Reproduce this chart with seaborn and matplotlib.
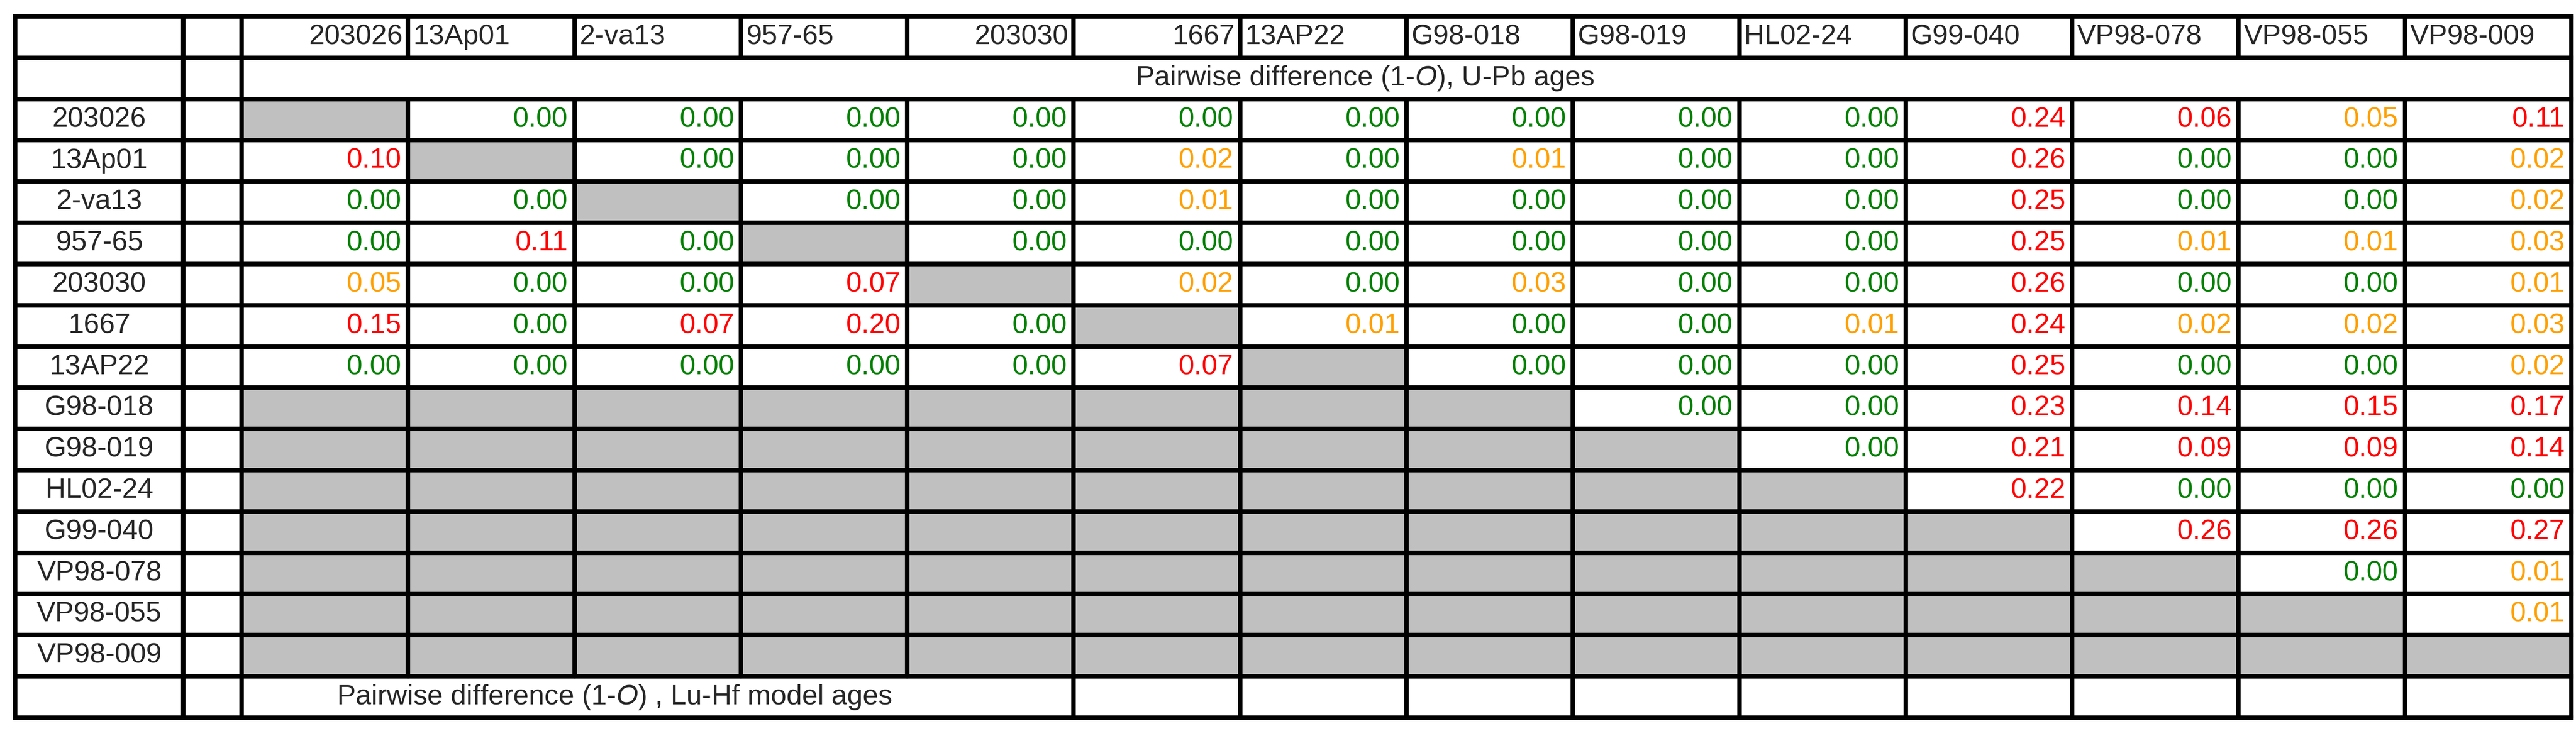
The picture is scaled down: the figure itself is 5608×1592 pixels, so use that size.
import numpy as np
import matplotlib
matplotlib.use("Agg")
import matplotlib.pyplot as plt
import seaborn as sns
from matplotlib.colors import ListedColormap

sns.set_theme(style="white")
plt.rcParams['font.family'] = ['Liberation Sans', 'DejaVu Sans']
plt.rcParams['mathtext.fontset'] = 'custom'
plt.rcParams['mathtext.it'] = 'Liberation Sans:italic'
plt.rcParams['mathtext.rm'] = 'Liberation Sans'

samples = ["203026", "13Ap01", "2-va13", "957-65", "203030", "1667", "13AP22",
           "G98-018", "G98-019", "HL02-24", "G99-040", "VP98-078", "VP98-055", "VP98-009"]
numeric_header = [True, False, False, False, True, True, False,
                  False, False, False, False, False, False, False]
N = np.nan
values = [
    [N, 0.00, 0.00, 0.00, 0.00, 0.00, 0.00, 0.00, 0.00, 0.00, 0.24, 0.06, 0.05, 0.11],
    [0.10, N, 0.00, 0.00, 0.00, 0.02, 0.00, 0.01, 0.00, 0.00, 0.26, 0.00, 0.00, 0.02],
    [0.00, 0.00, N, 0.00, 0.00, 0.01, 0.00, 0.00, 0.00, 0.00, 0.25, 0.00, 0.00, 0.02],
    [0.00, 0.11, 0.00, N, 0.00, 0.00, 0.00, 0.00, 0.00, 0.00, 0.25, 0.01, 0.01, 0.03],
    [0.05, 0.00, 0.00, 0.07, N, 0.02, 0.00, 0.03, 0.00, 0.00, 0.26, 0.00, 0.00, 0.01],
    [0.15, 0.00, 0.07, 0.20, 0.00, N, 0.01, 0.00, 0.00, 0.01, 0.24, 0.02, 0.02, 0.03],
    [0.00, 0.00, 0.00, 0.00, 0.00, 0.07, N, 0.00, 0.00, 0.00, 0.25, 0.00, 0.00, 0.02],
    [N, N, N, N, N, N, N, N, 0.00, 0.00, 0.23, 0.14, 0.15, 0.17],
    [N, N, N, N, N, N, N, N, N, 0.00, 0.21, 0.09, 0.09, 0.14],
    [N, N, N, N, N, N, N, N, N, N, 0.22, 0.00, 0.00, 0.00],
    [N, N, N, N, N, N, N, N, N, N, N, 0.26, 0.26, 0.27],
    [N, N, N, N, N, N, N, N, N, N, N, N, 0.00, 0.01],
    [N, N, N, N, N, N, N, N, N, N, N, N, N, 0.01],
    [N, N, N, N, N, N, N, N, N, N, N, N, N, N],
]
title_upb = "Pairwise difference ($\\mathit{1}$-$\\mathit{O}$), U-Pb ages"
title_luhf = "Pairwise difference ($\\mathit{1}$-$\\mathit{O}$) , Lu-Hf model ages"

def colour(v):
    if v == 0:
        return "#008000"
    if v <= 0.05:
        return "#ffa000"
    return "#ff0000"

W, H = 5608, 1592
fig = plt.figure(figsize=(W / 100, H / 100), dpi=100)
x0, x1 = 526, 5598
y0, y1 = 36, 1563
ax = fig.add_axes([x0 / W, 1 - y1 / H, (x1 - x0) / W, (y1 - y0) / H])

n = len(samples)
vals = np.array(values, dtype=float)
grid = np.full((n + 3, n), np.nan)
grid[2:2 + n][np.isnan(vals)] = 1.0
mask = np.isnan(grid)
sns.heatmap(grid, mask=mask, cmap=ListedColormap(["#c0c0c0"]), cbar=False,
            xticklabels=False, yticklabels=False, ax=ax, linewidths=0)
ax.set_xlim(-1.36, n)
ax.set_ylim(n + 3, 0)
ax.set_position([(x0 - 1.36 * (x1 - x0) / n) / W, 1 - y1 / H,
                 (x1 - x0 + 1.36 * (x1 - x0) / n) / W, (y1 - y0) / H])
ax.axis("off")

fs = 44
lw = 7
cl, cb = -1.36, -0.35
rows_total = n + 3
for r in range(rows_total + 1):
    ax.plot([cl, n], [r, r], color="black", lw=lw, solid_capstyle="projecting", clip_on=False)
for r in range(rows_total):
    xs = [cl, cb, 0, n]
    if r == 0 or 2 <= r < 2 + n:
        xs += list(range(1, n))
    elif r == rows_total - 1:
        xs += list(range(5, n))
    for x in xs:
        ax.plot([x, x], [r, r + 1], color="black", lw=lw, clip_on=False)

for j, s in enumerate(samples):
    if numeric_header[j]:
        ax.text(j + 0.97, 0.5, s, ha="right", va="center", fontsize=fs)
    else:
        ax.text(j + 0.03, 0.5, s, ha="left", va="center", fontsize=fs)
ax.text(6.75, 1.5, title_upb, ha="center", va="center", fontsize=fs)
ax.text(0.57, rows_total - 0.5, title_luhf, ha="left", va="center", fontsize=fs)

for i, s in enumerate(samples):
    ax.text((cl + cb) / 2, i + 2.5, s, ha="center", va="center", fontsize=fs)
    for j in range(n):
        v = vals[i, j]
        if not np.isnan(v):
            ax.text(j + 0.96, i + 2.5, f"{v:.2f}", ha="right", va="center",
                    fontsize=fs, color=colour(v))

fig.savefig("out.png", dpi=100, facecolor="white")
